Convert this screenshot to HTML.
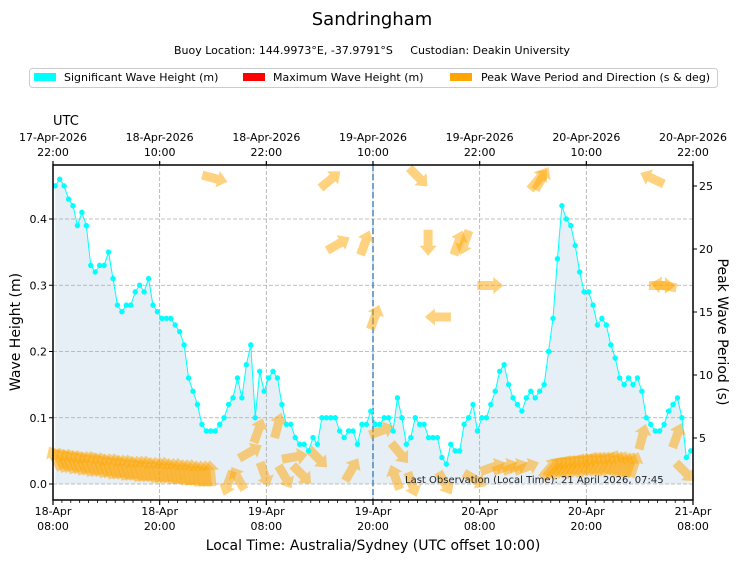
<!DOCTYPE html>
<html><head><meta charset="utf-8"><style>
body{margin:0;background:#fff;font-family:"Liberation Sans","DejaVu Sans",sans-serif;}
#wrap{position:relative;width:739px;height:562px;overflow:hidden}
svg text{font-family:"DejaVu Sans","Liberation Sans",sans-serif;}
</style></head><body>
<div id="wrap">
<svg id="svg" width="739" height="562" xmlns="http://www.w3.org/2000/svg">
<text x="372" y="25" font-size="18" text-anchor="middle">Sandringham</text>
<text x="372" y="54" font-size="11" text-anchor="middle" style="white-space:pre" xml:space="preserve">Buoy Location: 144.9973°E, -37.9791°S     Custodian: Deakin University</text>
<g>
<rect x="29.5" y="68.5" width="688" height="19" rx="3" fill="#fff" stroke="#ccc"/>
<g><rect x="34" y="73" width="22" height="8" fill="#00ffff"/><text x="64" y="81" font-size="11">Significant Wave Height (m)</text></g>
<g><rect x="243" y="73" width="22" height="8" fill="#ff0000"/><text x="273" y="81" font-size="11">Maximum Wave Height (m)</text></g>
<g><rect x="450" y="73" width="22" height="8" fill="#ffa500"/><text x="481" y="81" font-size="11">Peak Wave Period and Direction (s &amp; deg)</text></g>
</g>
<text x="53" y="125" font-size="13">UTC</text>
<g id="plot"></g>
</svg>
</div>
<script>
// Significant wave height, every 30 min starting 08:15 18-Apr local
const heights=[0.45,0.46,0.45,0.43,0.42,0.39,0.41,0.39,0.33,0.32,0.33,0.33,0.35,0.31,0.27,0.26,0.27,0.27,0.29,0.30,0.29,0.31,0.27,0.26,0.25,0.25,0.25,0.24,0.23,0.21,0.16,0.14,0.12,0.09,0.08,0.08,
0.08,0.09,0.10,0.12,0.13,0.16,0.13,0.18,0.21,0.10,0.17,0.14,0.16,0.17,0.16,0.12,0.09,0.09,0.07,0.06,0.06,0.05,0.07,0.06,0.10,0.10,0.10,0.10,0.08,0.07,0.08,0.08,0.06,0.09,0.09,0.11,
0.09,0.09,0.10,0.10,0.08,0.13,0.10,0.06,0.07,0.10,0.09,0.09,0.07,0.07,0.07,0.04,0.03,0.06,0.05,0.05,0.09,0.10,0.12,0.08,0.10,0.10,0.12,0.14,0.17,0.18,0.15,0.13,0.12,0.11,0.13,0.14,
0.13,0.14,0.15,0.20,0.25,0.34,0.42,0.40,0.39,0.36,0.32,0.29,0.29,0.27,0.24,0.25,0.24,0.21,0.19,0.16,0.15,0.16,0.15,0.16,0.14,0.10,0.09,0.08,0.08,0.09,0.11,0.12,0.13,0.10,0.04,0.05];
const startHour=0.25, stepHour=0.5;
// Peak period arrows: hours since 18-Apr 08:00, period (s), direction (screen bearing deg)
const arrowHours=[0.25,0.75,1.25,1.75,2.25,2.75,3.25,3.75,4.25,4.75,5.25,5.75,6.25,6.75,7.25,7.75,8.25,8.75,9.25,9.75,10.25,10.75,11.25,11.75,12.25,12.75,13.25,13.75,14.25,14.75,15.25,15.75,16.25,16.75,17.25,17.75,
19.7,20.8,22.2,23.1,25.3,23.8,26.1,28.0,27.2,29.8,33.6,37.0,39.0,38.5,40.4,44.1,47.5,49.5,50.9,52.0,53.3,
55.9,56.4,56.9,57.4,57.9,58.4,58.9,59.4,59.9,60.4,60.9,61.4,61.9,62.4,62.9,63.4,63.9,64.4,64.9,65.4,
66.3,70.2,71.1,18.2,31.2,41.1,54.6,55.0,67.4,32.1,35.1,42.2,45.6,46.3,49.2,68.5,68.7,36.2,43.3];
const arrowPeriods=[3.4,3.3,3.3,3.2,3.2,3.1,3.1,3.0,3.0,3.0,2.9,2.9,2.8,2.8,2.8,2.7,2.7,2.7,2.6,2.6,2.6,2.6,2.5,2.5,2.5,2.5,2.4,2.4,2.4,2.3,2.3,2.3,2.2,2.2,2.2,2.2,
1.4,1.8,3.9,5.6,6.0,2.1,1.9,2.1,3.5,3.4,2.5,5.6,3.8,1.9,1.3,1.4,1.7,2.7,2.7,2.7,2.7,
2.6,2.7,2.7,2.8,2.8,2.8,2.9,2.9,2.9,3.0,3.0,3.0,3.0,3.0,3.1,3.0,3.0,2.9,2.9,2.9,
5.1,5.2,2.3,25.6,25.5,25.7,25.5,25.6,25.6,20.4,20.5,20.5,20.5,20.5,17.1,17.1,17.1,14.6,14.6];
const arrowDirs=[-28,-27,-26,-26,-25,-24,-24,-23,-22,-22,-21,-20,-20,-19,-18,-18,-17,-16,-16,-15,-14,-14,-13,-12,-12,-11,-10,-10,-9,-8,-8,-7,-6,-6,-5,-5,
200,330,60,20,15,160,150,135,80,135,30,70,140,340,160,150,120,70,70,70,70,
40,40,38,37,36,35,34,33,32,31,30,29,28,27,26,25,24,22,20,18,
15,20,135,105,50,135,40,30,295,60,20,180,20,200,90,90,280,20,270];
const xTickLabels=["18-Apr\n08:00","18-Apr\n20:00","19-Apr\n08:00","19-Apr\n20:00","20-Apr\n08:00","20-Apr\n20:00","21-Apr\n08:00"];
const topTickLabels=["17-Apr-2026\n22:00","18-Apr-2026\n10:00","18-Apr-2026\n22:00","19-Apr-2026\n10:00","19-Apr-2026\n22:00","20-Apr-2026\n10:00","20-Apr-2026\n22:00"];
const yTicks=[0.0,0.1,0.2,0.3,0.4];
const rTicks=[5,10,15,20,25];
const lastObsHour=36;

const L=53,R=693,T=165,B=500,NS="http://www.w3.org/2000/svg";
const X=h=>L+(h/72)*(R-L);
const Y=v=>484-v*662.5;
const YR=p=>501-p*12.6;
const plot=document.getElementById('plot');
function mk(tag,at,parent){const e=document.createElementNS(NS,tag);for(const k in at)e.setAttribute(k,at[k]);(parent||plot).appendChild(e);return e;}

let pts=heights.map((v,i)=>[X(startHour+i*stepHour),Y(v)]);
let fd="M"+pts[0][0]+","+Y(0)+" "+pts.map(p=>"L"+p[0]+","+p[1]).join(" ")+" L"+pts[pts.length-1][0]+","+Y(0)+"Z";
const fill=mk('path',{d:fd,fill:'#e6eef6'});


yTicks.forEach(v=>{const g=mk('line',{x1:L,x2:R,y1:Y(v),y2:Y(v),stroke:'#aaa','stroke-dasharray':'4,2','stroke-width':0.8});

});
xTickLabels.forEach((s,i)=>{if(i==0||i==6)return;const g=mk('line',{x1:X(i*12),x2:X(i*12),y1:T,y2:B,stroke:'#aaa','stroke-dasharray':'4,2','stroke-width':0.8});

});
const lo=mk('line',{x1:X(lastObsHour),x2:X(lastObsHour),y1:T,y2:B,stroke:'#4a86b8','stroke-dasharray':'6,3','stroke-width':1.5});



const ag=mk('g',{});


arrowHours.forEach((h,i)=>{
  const cx=X(h),cy=YR(arrowPeriods[i]);
  const a=mk('polygon',{points:"-4.5,13 4.5,13 4.5,-3 8.5,-3 0,-13 -8.5,-3 -4.5,-3",fill:'#ffa500','fill-opacity':0.5,transform:`translate(${cx},${cy}) rotate(${arrowDirs[i]})`},ag);
  
  
});

const ln=mk('polyline',{points:pts.map(p=>p.join(',')).join(' '),fill:'none',stroke:'#00ffff','stroke-width':1});


pts.forEach(p=>{const c=mk('circle',{cx:p[0],cy:p[1],r:2.7,fill:'#00ffff'});

});

const fr=mk('rect',{x:L,y:T,width:R-L,height:B-T,fill:'none',stroke:'#000','stroke-width':1.5});



for(let h=0;h<=72;h++){const major=h%12==0;mk('line',{x1:X(h),x2:X(h),y1:B,y2:B+(major?5:3),stroke:'#000','stroke-width':major?1.2:0.8});}
xTickLabels.forEach((s,i)=>{const [a,b]=s.split("\n");
 const t=mk('text',{x:X(i*12),y:515,'font-size':11,'text-anchor':'middle'});t.textContent=a;
 
 
 const t2=mk('text',{x:X(i*12),y:530,'font-size':11,'text-anchor':'middle'});t2.textContent=b;
 
 });
topTickLabels.forEach((s,i)=>{const [a,b]=s.split("\n");
 mk('line',{x1:X(i*12),x2:X(i*12),y1:T,y2:T-4,stroke:'#000','stroke-width':1.2});
 const t=mk('text',{x:X(i*12),y:141,'font-size':11,'text-anchor':'middle'});t.textContent=a;
 
 
 const t2=mk('text',{x:X(i*12),y:156,'font-size':11,'text-anchor':'middle'});t2.textContent=b;
 
 });
yTicks.forEach(v=>{mk('line',{x1:L,x2:L-4,y1:Y(v),y2:Y(v),stroke:'#000'});
 const t=mk('text',{x:L-6,y:Y(v)+4,'font-size':11,'text-anchor':'end'});t.textContent=v.toFixed(1);
 
 });
rTicks.forEach(v=>{mk('line',{x1:R,x2:R+4,y1:YR(v),y2:YR(v),stroke:'#000'});
 const t=mk('text',{x:R+6,y:YR(v)+4,'font-size':11});t.textContent=v;
 
 });
</script>
<div style="position:absolute;left:0;top:0;width:739px;height:562px;pointer-events:none">
<svg width="739" height="562" xmlns="http://www.w3.org/2000/svg">
<text x="405" y="483" font-size="10" font-family="DejaVu Sans, Liberation Sans, sans-serif" fill="#222">Last Observation (Local Time): 21 April 2026, 07:45</text>
<text x="20" y="332" font-size="14" text-anchor="middle" transform="rotate(-90 20 332)" font-family="DejaVu Sans, Liberation Sans, sans-serif">Wave Height (m)</text>
<text x="718" y="332" font-size="14" text-anchor="middle" transform="rotate(90 718 332)" font-family="DejaVu Sans, Liberation Sans, sans-serif">Peak Wave Period (s)</text>
<text x="373" y="550" font-size="14" text-anchor="middle" font-family="DejaVu Sans, Liberation Sans, sans-serif">Local Time: Australia/Sydney (UTC offset 10:00)</text>
</svg></div>
</body></html>
